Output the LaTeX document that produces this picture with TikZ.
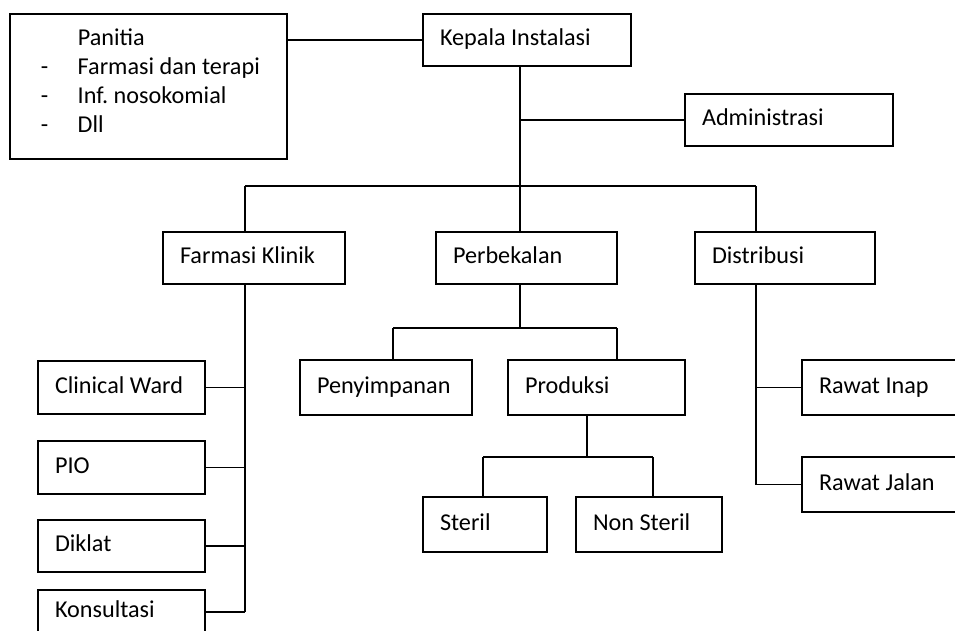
\documentclass[tikz,border=0pt]{standalone}
\usepackage{fontspec}
\setmainfont{Carlito}
\frenchspacing
\newcommand\bx[6]{%
  \pgfmathsetmacro\bxw{#4-#2-34}%
  \pgfmathsetmacro\bxh{#5-#3}%
  \node[box, minimum height=\bxh pt] (#1) at ({(#2+#4)/2},{(#3+#5)/2}) {\makebox[\bxw pt][l]{#6}};}
\begin{document}
\begin{tikzpicture}[x=1pt,y=-1pt, line width=1.5pt,
  txt/.style={font=\fontsize{24.2}{29}\selectfont\frenchspacing},
  box/.style={draw, rectangle, inner xsep=17pt, inner ysep=0pt, txt, text height=16pt, text depth=5pt},
  conn/.style={draw, line width=1.5pt}]
\useasboundingbox (0,0) rectangle (955,630);
\clip (0,0) rectangle (955,630);
\fill[white] (0,0) rectangle (955,630);
% boxes
\bx{panitia}{10}{14}{287}{159}{}
\bx{kepala}{423}{14}{631}{66}{Kepala Instalasi}
\bx{admin}{685}{94}{893}{146}{Administrasi}
\bx{fk}{163}{232}{345}{284}{Farmasi Klinik}
\bx{perb}{436}{232}{617}{284}{Perbekalan}
\bx{dist}{695}{232}{875}{284}{Distribusi}
\bx{cw}{38}{361}{205}{414}{Clinical Ward}
\bx{pio}{38}{441}{205}{494}{PIO}
\bx{diklat}{38}{520}{205}{572}{Diklat}
\bx{kons}{38}{590}{205}{634}{Konsultasi}
\bx{peny}{300}{360}{472}{415}{Penyimpanan}
\bx{prod}{508}{360}{685}{415}{Produksi}
\bx{steril}{423}{497}{547}{552}{Steril}
\bx{nonsteril}{576}{497}{722}{552}{Non Steril}
\bx{inap}{802}{360}{975}{415}{Rawat Inap}
\bx{jalan}{802}{457}{975}{512}{Rawat Jalan}
% panitia text
\node[anchor=base west, inner sep=0pt, txt] (ptext) at (40,45) {\begin{tabular}[t]{@{}p{37pt}@{}l@{}}
 & Panitia\\
- & Farmasi dan terapi\\
- & Inf. nosokomial\\
- & Dll
\end{tabular}};
% branch points
\coordinate (bus) at (520,186);
\coordinate (fkx) at (245,186);
\coordinate (dx) at (756,186);
\coordinate (pb) at (520,328);
\coordinate (pl) at (393,328);
\coordinate (pr) at (617,328);
\coordinate (pd) at (587,457);
\coordinate (sl) at (483,457);
\coordinate (sr) at (653,457);
% connectors
\draw[conn] (kepala.west) -- (kepala.west -| panitia.east);
\draw[conn] (bus |- kepala.south) -- (bus);
\draw[conn] (admin.west) -- (admin.west -| bus);
\draw[conn] (fkx) -- (dx);
\draw[conn] (fkx) -- (fkx |- fk.north);
\draw[conn] (bus) -- (bus |- perb.north);
\draw[conn] (dx) -- (dx |- dist.north);
\draw[conn] (fkx |- fk.south) -- (fkx |- kons.east);
\draw[conn] (cw.east) -- (cw.east -| fkx);
\draw[conn] (pio.east) -- (pio.east -| fkx);
\draw[conn] (diklat.east) -- (diklat.east -| fkx);
\draw[conn] (kons.east) -- (kons.east -| fkx);
\draw[conn] (pb |- perb.south) -- (pb);
\draw[conn] (pl) -- (pr);
\draw[conn] (pl) -- (pl |- peny.north);
\draw[conn] (pr) -- (pr |- prod.north);
\draw[conn] (pd |- prod.south) -- (pd);
\draw[conn] (sl) -- (sr);
\draw[conn] (sl) -- (sl |- steril.north);
\draw[conn] (sr) -- (sr |- nonsteril.north);
\draw[conn] (dx |- dist.south) -- (dx |- jalan.west);
\draw[conn] (inap.west) -- (inap.west -| dx);
\draw[conn] (jalan.west) -- (jalan.west -| dx);
\end{tikzpicture}
\end{document}
